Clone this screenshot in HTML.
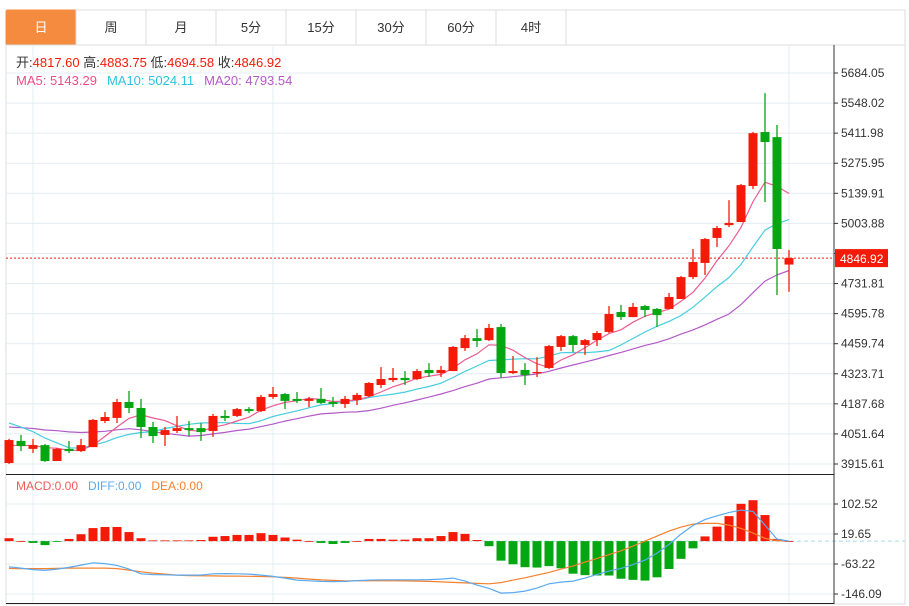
<!DOCTYPE html>
<html><head><meta charset="utf-8">
<style>
html,body{margin:0;padding:0;background:#fff;}
body{width:909px;height:606px;overflow:hidden;position:relative;font-family:"Liberation Sans","Noto Sans CJK SC",sans-serif;}
svg{position:absolute;left:0;top:0;}
text{font-family:"Liberation Sans","Noto Sans CJK SC",sans-serif;}
</style></head>
<body>
<svg id="chart" width="909" height="606">
  <rect x="6" y="10" width="899" height="594" fill="#fff" stroke="#dcdcdc"/>
  <g id="tabs"></g>
  <g id="grid"></g>
  <g id="macdbars"></g>
  <g id="lines"></g>
  <g id="candles"></g>
  <g id="axes"></g>
  <g>
    <text x="16" y="67" font-size="13" fill="#333">开:<tspan fill="#f31b07">4817.60</tspan>  高:<tspan fill="#f31b07">4883.75</tspan>  低:<tspan fill="#f31b07">4694.58</tspan>  收:<tspan fill="#f31b07">4846.92</tspan></text>
    <text x="16" y="85" font-size="13"><tspan fill="#ec4f86">MA5: 5143.29</tspan><tspan fill="#2bc4dc" dx="10">MA10: 5024.11</tspan><tspan fill="#b45ac8" dx="10">MA20: 4793.54</tspan></text>
  </g>
  <text x="16" y="490" font-size="12"><tspan fill="#f05a5a">MACD:0.00</tspan><tspan fill="#5aaaf0" dx="10">DIFF:0.00</tspan><tspan fill="#f5812e" dx="10">DEA:0.00</tspan></text>
</svg>
<script>
const opens=[3920,4020,3984,4001,3929,3984,3974,3992,4110,4124,4196,4169,4083,4047,4065,4078,4078,4065,4133,4133,4164,4155,4219,4232,4210,4201,4210,4196,4187,4205,4223,4273,4295,4305,4300,4341,4327,4336,4440,4485,4476,4535,4327,4341,4327,4350,4445,4494,4454,4476,4513,4603,4580,4630,4617,4617,4662,4761,4825,4938,4996,5010,5173,5417,5394,4817.60];
const highs=[4029,4047,4029,4006,3988,4020,4029,4119,4151,4210,4246,4210,4106,4083,4133,4110,4101,4142,4160,4169,4173,4228,4264,4237,4241,4219,4259,4219,4223,4237,4286,4354,4350,4336,4345,4372,4359,4449,4499,4526,4549,4549,4404,4372,4399,4454,4499,4499,4481,4517,4630,4635,4644,4635,4621,4689,4766,4888,4938,4992,5109,5182,5417,5593,5449,4883.75];
const lows=[3916,3974,3965,3925,3929,3965,3970,3992,4101,4101,4146,4033,4011,3997,4056,4042,4020,4038,4110,4128,4146,4151,4210,4164,4192,4173,4187,4173,4169,4182,4219,4259,4286,4273,4295,4309,4309,4336,4427,4445,4472,4305,4323,4273,4309,4345,4427,4422,4409,4449,4508,4567,4580,4580,4535,4617,4662,4752,4770,4897,4987,5010,5159,5100,4680,4694.58];
const closes=[4024,3997,4001,3929,3984,3974,4001,4115,4128,4196,4169,4083,4042,4069,4078,4069,4060,4133,4124,4164,4155,4219,4232,4201,4201,4210,4192,4187,4210,4228,4282,4300,4305,4295,4336,4327,4341,4445,4485,4472,4531,4327,4336,4318,4332,4449,4494,4454,4476,4508,4594,4580,4626,4612,4589,4671,4761,4829,4933,4983,5006,5177,5412,5372,4888,4846.92];
const priorCloses=[4060,4070,4065,4055,4075,4060,4070,4065,4060,4070,4180,4210,4220,4200,4195,4010,3990,3985,3995];
const priceTicks=["5684.05","5548.02","5411.98","5275.95","5139.91","5003.88","4867.84","4731.81","4595.78","4459.74","4323.71","4187.68","4051.64","3915.61"];
const macdHist=[8,0,-5,-11,-2,6,19,36,39,39,25,8,2,2,2,2,3,12,14,17,17,22,17,10,4,0,-5,-8,-5,0,6,6,4,4,8,8,14,25,20,3,-14,-54,-64,-72,-73,-69,-75,-90,-94,-95,-95,-104,-107,-109,-100,-77,-49,-20,13,40,69,103,113,72,6,0];
const diffVals=[-71.0,-74.6,-78.7,-80.9,-77.3,-72.6,-66.3,-59.9,-62.1,-67.1,-77.3,-90.3,-92.5,-93.1,-93.9,-93.9,-93.9,-90.3,-89.8,-90.3,-91.1,-93.9,-97.5,-102.2,-107.7,-109.7,-111.3,-111.9,-111.3,-109.1,-107.7,-106.9,-106.9,-106.9,-106.9,-106.3,-105.0,-102.2,-110.5,-121.5,-130.6,-143.6,-142.2,-138.1,-129.8,-117.9,-113.2,-110.5,-102.2,-92.0,-82.9,-75.4,-64.9,-52.5,-33.1,-9.1,19.3,43.4,59.4,69.9,78.7,85.6,82.0,44.2,5.5,0];
const deaVals=[-75.4,-76.0,-76.0,-76.0,-75.4,-74.6,-74.6,-74.6,-74.6,-76.0,-80.1,-84.8,-88.4,-91.1,-93.9,-95.3,-95.8,-96.1,-96.7,-96.7,-97.2,-97.8,-98.6,-100.3,-102.2,-105.0,-107.2,-108.5,-109.7,-109.7,-109.7,-109.7,-109.7,-109.9,-110.5,-111.3,-112.7,-114.1,-115.5,-116.8,-117.9,-114.6,-107.7,-101.4,-93.9,-86.5,-77.3,-69.1,-58.0,-47.8,-37.3,-26.8,-13.8,0,13.8,27.6,38.7,47.0,48.9,48.9,44.2,35.1,22.1,7.5,1.4,0];
const macdTicks=["102.52","19.65","-63.22","-146.09"];
const tabLabels=["日","周","月","5分","15分","30分","60分","4时"];

const NS="http://www.w3.org/2000/svg";
function mk(tag,attrs,parent){const e=document.createElementNS(NS,tag);for(const k in attrs)e.setAttribute(k,attrs[k]);parent.appendChild(e);return e;}
const RED="#f31b07",GREEN="#06a512";
const pTop=5684.05,pBot=3915.61,yTop=73,yBot=464;
function py(p){return yBot-(p-pBot)/(pTop-pBot)*(yBot-yTop);}
const mTop=102.52,mBot=-146.09,myTop=504,myBot=594;
function my(v){return myBot-(v-mBot)/(mTop-mBot)*(myBot-myTop);}
function cx(i){return 9+12*i;}

// tabs
const tabs=document.getElementById('tabs');
tabLabels.forEach((t,i)=>{
  const g=mk('g',{},tabs);
  
  
  mk('rect',{x:6+70*i,y:10,width:70,height:35,fill:i===0?'#f58b3f':'#fff',stroke:i===0?'#f58b3f':'#dcdcdc',rx:i===0?2:0},g);
  const tx=mk('text',{x:41+70*i,y:32,'font-size':13,'text-anchor':'middle',fill:i===0?'#fff':'#333'},g);
  tx.textContent=t;
});
mk('line',{x1:6,y1:45,x2:905,y2:45,stroke:'#dcdcdc'},tabs);

// grid
const grid=document.getElementById('grid');
priceTicks.forEach((t,i)=>{const y=py(parseFloat(t));const l=mk('line',{x1:6,y1:y,x2:834,y2:y,stroke:'#e3ecf3'},grid);});
macdTicks.forEach(t=>{const y=my(parseFloat(t));const l=mk('line',{x1:6,y1:y,x2:834,y2:y,stroke:'#e3ecf3'},grid);});
[33,273,789].forEach(x=>{mk('line',{x1:x,y1:45,x2:x,y2:604,stroke:'#e3ecf3'},grid);});

// macd zero line + bars
const mb=document.getElementById('macdbars');
mk('line',{x1:6,y1:my(0),x2:905,y2:my(0),stroke:'#a9dbe8','stroke-dasharray':'4,3'},mb);
macdHist.forEach((v,i)=>{
  const y0=my(0),y1=my(v);
  const r=mk('rect',{x:cx(i)-4.5,y:Math.min(y0,y1),width:9,height:Math.max(0.8,Math.abs(y1-y0)),fill:v>=0?RED:GREEN},mb);
  
  
});

// MA lines
const all=priorCloses.concat(closes);const off=priorCloses.length;
function ma(n){return closes.map((c,i)=>{let s=0,k=0;for(let j=i+off;j>i+off-n&&j>=0;j--){s+=all[j];k++;}return s/k;});}
const lines=document.getElementById('lines');
function poly(vals,fy,color,name,w){
  const p=mk('polyline',{points:vals.map((v,i)=>cx(i)+','+fy(v).toFixed(1)).join(' '),fill:'none',stroke:color,'stroke-width':w||1.2},lines);
  
  
}
poly(ma(20),py,'#b45ac8','ma20-line');
poly(ma(10),py,'#46cde0','ma10-line');
poly(ma(5),py,'#ee5b90','ma5-line');
poly(deaVals,my,'#f5812e','dea-line');
poly(diffVals,my,'#5aaaf0','diff-line');

// candles
const cg=document.getElementById('candles');
closes.forEach((c,i)=>{
  const o=opens[i],h=highs[i],l=lows[i];
  const col=c>=o?RED:GREEN;
  const g=mk('g',{},cg);
  
  
  mk('line',{x1:cx(i),y1:py(h),x2:cx(i),y2:py(l),stroke:col,'stroke-width':1.3},g);
  const yt=py(Math.max(o,c)),yb=py(Math.min(o,c));
  mk('rect',{x:cx(i)-4.5,y:yt,width:9,height:Math.max(1.2,yb-yt),fill:col},g);
});

// axes
const ax=document.getElementById('axes');
const last=closes[closes.length-1];const ly=py(last);
mk('line',{x1:834,y1:45,x2:834,y2:604,stroke:'#333'},ax);
mk('line',{x1:6,y1:474.5,x2:834,y2:474.5,stroke:'#222'},ax);
mk('line',{x1:6,y1:603.5,x2:834,y2:603.5,stroke:'#222'},ax);
priceTicks.forEach(t=>{
  const y=py(parseFloat(t));
  mk('line',{x1:834,y1:y,x2:838,y2:y,stroke:'#333'},ax);
  if(Math.abs(y-ly)<12) return;
  const tx=mk('text',{x:841,y:y+4,'font-size':12,fill:'#333'},ax);
  tx.textContent=t;
  
  
});
macdTicks.forEach(t=>{
  const y=my(parseFloat(t));
  mk('line',{x1:834,y1:y,x2:838,y2:y,stroke:'#333'},ax);
  const tx=mk('text',{x:841,y:y+4,'font-size':12,fill:'#333'},ax);
  tx.textContent=t;
  
  
});
// current price
const cl=mk('line',{x1:6,y1:ly,x2:834,y2:ly,stroke:RED,'stroke-dasharray':'2,2'},ax);


const cb=mk('rect',{x:835,y:ly-9,width:53,height:18,fill:RED},ax);


const ct=mk('text',{x:840,y:ly+5,'font-size':12,fill:'#fff'},ax);
ct.textContent=last.toFixed(2);
</script>
</body></html>
